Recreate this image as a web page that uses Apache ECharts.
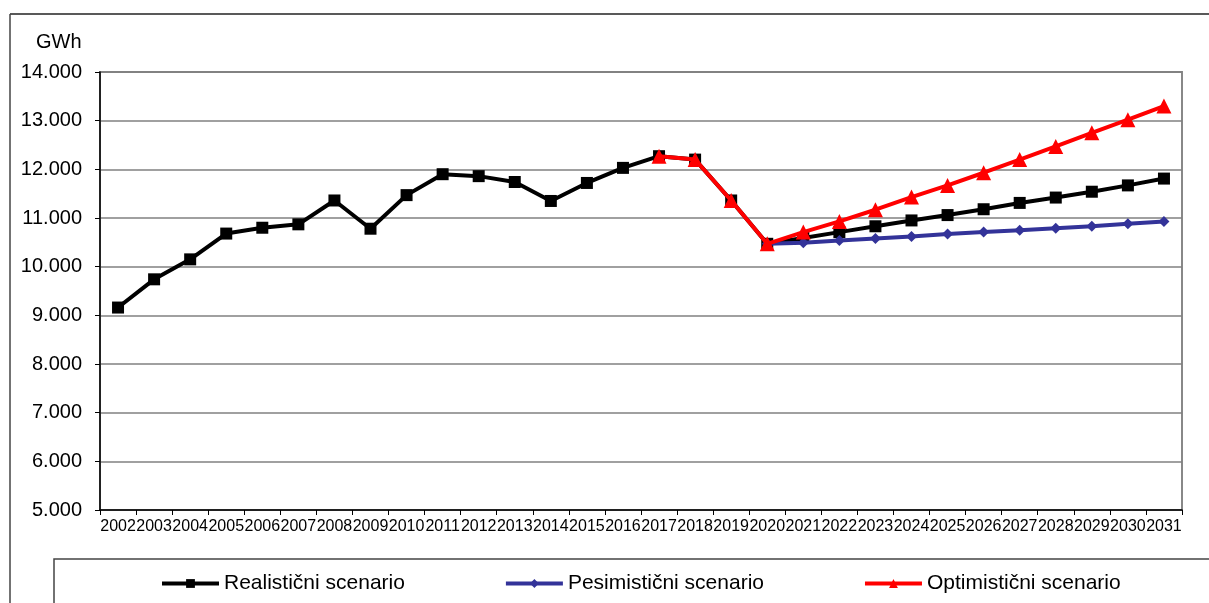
<!DOCTYPE html>
<html>
<head>
<meta charset="utf-8">
<script src="https://cdn.jsdelivr.net/npm/echarts@6/dist/echarts.min.js"></script>
<style>html,body{margin:0;padding:0;background:#fff}#c{width:1209px;height:603px}</style>
</head>
<body>
<div id="c"></div>
<script>
const years = ['2002','2003','2004','2005','2006','2007','2008','2009','2010','2011','2012','2013','2014','2015','2016','2017','2018','2019','2020','2021','2022','2023','2024','2025','2026','2027','2028','2029','2030','2031'];
const realistic = [9160,9740,10150,10680,10800,10870,11360,10780,11470,11900,11860,11740,11350,11720,12030,12270,12200,11360,10470,10590,10710,10830,10950,11060,11180,11310,11420,11540,11670,11810];
const pessimistic = [null,null,null,null,null,null,null,null,null,null,null,null,null,null,null,null,null,null,10470,10490,10540,10580,10620,10670,10710,10750,10790,10830,10880,10930];
const optimistic = [null,null,null,null,null,null,null,null,null,null,null,null,null,null,null,12270,12200,11360,10470,10710,10930,11170,11430,11670,11930,12200,12470,12750,13020,13300];
const seriesNames = ['Realistični scenario','Pesimistični scenario','Optimistični scenario'];
const yTicks = {min:5000, max:14000, step:1000};

const chart = echarts.init(document.getElementById('c'), null, {renderer:'canvas'});
const font = 'Arial, "Liberation Sans", sans-serif';
chart.setOption({
  animation:false,
  backgroundColor:'#fff',
  textStyle:{fontFamily:font},
  graphic:[
    {type:'line', shape:{x1:10,y1:14,x2:1209,y2:14}, style:{stroke:'#222',lineWidth:1.5}},
    {type:'line', shape:{x1:10,y1:14,x2:10,y2:603}, style:{stroke:'#444',lineWidth:1.5}},
    {type:'rect', shape:{x:54,y:559,width:1200,height:60}, style:{fill:'none',stroke:'#444',lineWidth:1.5}},
    {type:'text', left:36, top:32, style:{text:'GWh', font:'20px '+font, fill:'#000'}}
  ],
  grid:{left:100,right:27,top:72,bottom:93,show:true,borderColor:'#888',borderWidth:2,backgroundColor:'transparent'},
  legend:{
    data:seriesNames,
    left:155, top:568, itemGap:99, itemWidth:57, itemHeight:11,
    lineStyle:{width:4},
    textStyle:{fontSize:21,color:'#000',fontFamily:font}
  },
  xAxis:{
    type:'category', data:years, boundaryGap:true,
    axisLine:{lineStyle:{color:'#000',width:1.5}},
    axisTick:{show:true,alignWithLabel:false,length:5,lineStyle:{color:'#000'}},
    axisLabel:{interval:0,fontSize:16,color:'#000',margin:9,fontFamily:font}
  },
  yAxis:{
    type:'value', min:yTicks.min, max:yTicks.max, interval:yTicks.step,
    axisLine:{show:true,lineStyle:{color:'#000',width:1.5}},
    axisTick:{show:true,length:5,lineStyle:{color:'#000'}},
    axisLabel:{fontSize:20,color:'#000',margin:18,fontFamily:font,
      formatter:v=>String(v).replace(/\B(?=(\d{3})+(?!\d))/g,'.')},
    splitLine:{show:true,lineStyle:{color:'#808080',width:1.5}}
  },
  series:[
    {name:seriesNames[0], type:'line', data:realistic, symbol:'rect', symbolSize:12,
      lineStyle:{color:'#000',width:4}, itemStyle:{color:'#000'}, z:2},
    {name:seriesNames[1], type:'line', data:pessimistic, symbol:'diamond', symbolSize:11,
      lineStyle:{color:'#333399',width:4}, itemStyle:{color:'#333399'}, z:3},
    {name:seriesNames[2], type:'line', data:optimistic, symbol:'triangle', symbolSize:15,
      lineStyle:{color:'#ff0000',width:4}, itemStyle:{color:'#ff0000'}, z:4}
  ]
});
</script>
</body>
</html>
